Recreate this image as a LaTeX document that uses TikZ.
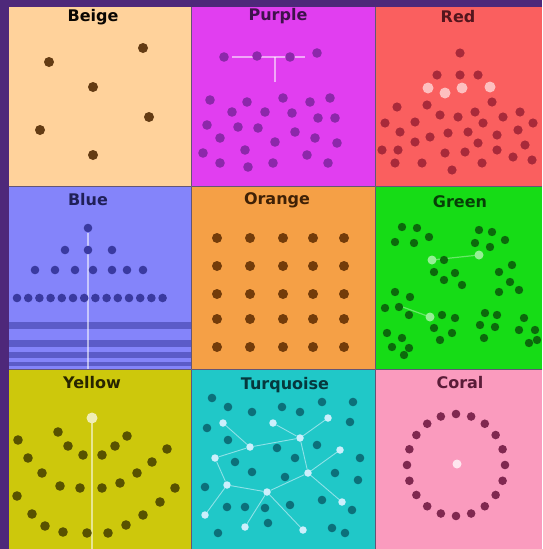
\documentclass[tikz,border=0pt]{standalone}
\usepackage{fontspec}
\setsansfont{DejaVu Sans}
\usepackage{xcolor}
\definecolor{bgpurple}{RGB}{78,40,122}
\definecolor{cbeige}{RGB}{255,210,155}
\definecolor{cpurple}{RGB}{225,62,240}
\definecolor{cred}{RGB}{250,95,95}
\definecolor{cblue}{RGB}{132,132,250}
\definecolor{corange}{RGB}{245,160,70}
\definecolor{cgreen}{RGB}{22,220,22}
\definecolor{cyellow}{RGB}{205,200,12}
\definecolor{cturq}{RGB}{32,200,200}
\definecolor{ccoral}{RGB}{250,155,190}
\definecolor{dbeige}{RGB}{100,60,20}
\definecolor{dpurple}{RGB}{140,40,170}
\definecolor{dred}{RGB}{168,42,58}
\definecolor{dblue}{RGB}{58,58,160}
\definecolor{dorange}{RGB}{115,60,10}
\definecolor{dgreen}{RGB}{12,105,12}
\definecolor{dyellow}{RGB}{88,82,0}
\definecolor{dturq}{RGB}{12,112,122}
\definecolor{dcoral}{RGB}{128,40,80}
\usetikzlibrary{calc}

\begin{document}
\begin{tikzpicture}[x=1pt,y=-1pt,
  title/.style={font=\sffamily\bfseries\fontsize{16}{16}\selectfont,inner sep=0pt},
  sep/.style={black!55,line width=1.4pt,opacity=0.6},
  glow/.style={white,opacity=0.55,line width=1.2pt},
  tqhub/.style={circle,fill=white!80!cyan,inner sep=0pt,minimum size=7.5pt},
  tqlink/.style={white!85!cyan,opacity=0.6,line width=0.9pt}]
  \useasboundingbox (0,0) rectangle (542,549);
  \fill[bgpurple] (0,0) rectangle (542,549);
  % cells
  \fill[cbeige]  (9,7)     rectangle (191,186);
  \fill[cpurple] (192,7)   rectangle (375,186);
  \fill[cred]    (376,7)   rectangle (542,186);
  \fill[cblue]   (9,187)   rectangle (191,369);
  \fill[corange] (192,187) rectangle (375,369);
  \fill[cgreen]  (376,187) rectangle (542,369);
  \fill[cyellow] (9,370)   rectangle (191,549);
  \fill[cturq]   (192,370) rectangle (375,549);
  \fill[ccoral]  (376,370) rectangle (542,549);
  \draw[sep] (191.5,7) -- (191.5,549);
  \draw[sep] (375.5,7) -- (375.5,549);
  \draw[sep] (9,186.5) -- (542,186.5);
  \draw[sep] (9,369.5) -- (542,369.5);
  % titles
  \node[title,text=black!90!dbeige]  (t-beige)  at (93,17)   {Beige};
  \node[title,text=dpurple!45!black] (t-purple) at (278,16) {Purple};
  \node[title,text=dred!50!black]    (t-red)    at (458,17) {Red};
  \node[title,text=dblue!55!black]   (t-blue)   at (88,200) {Blue};
  \node[title,text=dorange!55!black] (t-orange) at (277,200) {Orange};
  \node[title,text=dgreen!60!black]  (t-green)  at (460,202) {Green};
  \node[title,text=dyellow!45!black] (t-yellow) at (92,383) {Yellow};
  \node[title,text=dturq!50!black]   (t-turq)   at (285,385) {Turquoise};
  \node[title,text=dcoral!70!black]  (t-coral)  at (460,383) {Coral};
  % beige
  \foreach \x/\y in {49/62,143/48,93/87,149/117,40/130,93/155}
    \fill[dbeige] (\x,\y) circle (5);
  % purple
  \draw[glow] (232,57) -- (305,57);
  \draw[glow] (275,57) -- (275,82);
  \foreach \x/\y in {224/57,257/56,290/57,317/53,
    210/100,247/102,283/98,310/102,330/98,232/112,265/112,292/113,
    207/125,238/127,258/128,295/132,318/118,335/118,220/138,275/142,
    315/138,337/143,203/153,245/150,307/155,220/163,248/167,273/163,328/163}
    \fill[dpurple] (\x,\y) circle (4.8);
  % red
  \foreach \x/\y in {428/88,445/93,462/88,490/87}
    \fill[white!60!cred] (\x,\y) circle (5.5);
  \foreach \x/\y in {460/53,437/75,460/75,478/75,
    397/107,427/105,492/102,520/112,440/115,458/117,475/112,503/117,
    385/123,415/122,483/123,533/123,400/132,430/137,448/133,468/132,
    497/135,518/130,415/142,478/143,525/145,382/150,398/150,445/153,
    465/152,497/150,513/157,395/163,422/163,482/163,532/160,452/170}
    \fill[dred] (\x,\y) circle (4.6);
  % blue
  \foreach \y/\h in {322/7,340/7,352/6,362/4}
    \fill[dblue,opacity=0.55] (9,\y) rectangle (191,\y+\h);
  \draw[glow] (88,233) -- (88,369);
  \foreach \x/\y in {88/228,65/250,88/250,112/250,
    35/270,55/270,75/270,93/270,112/270,127/270,143/270}
    \fill[dblue] (\x,\y) circle (4.3);
  \foreach \i in {0,...,13}
    \fill[dblue] (17+11.2*\i,298) circle (4.3);
  % orange
  \foreach \x in {217,250,283,313,344}
    \foreach \y in {238,266,294,319,347}
      \fill[dorange] (\x,\y) circle (5);
  % green
  \draw[glow,opacity=0.35] (432,260) -- (479,255);
  \draw[glow,opacity=0.35] (400,306) -- (430,317);
  \foreach \x/\y in {432/260,479/255,430/317}
    \fill[white!55!cgreen] (\x,\y) circle (4.5);
  \foreach \x/\y in {402/227,417/228,395/242,414/243,429/237,
    479/230,492/232,475/243,490/247,505/240,
    444/260,434/272,444/280,455/273,462/285,
    512/265,499/272,510/282,499/292,519/290,
    395/292,410/297,385/308,399/307,409/315,
    442/315,455/318,434/328,452/333,440/340,
    485/313,497/315,480/325,495/327,484/338,
    387/333,402/338,392/347,409/348,404/355,
    524/318,535/330,519/330,529/343,537/340}
    \fill[dgreen] (\x,\y) circle (4.2);
  % yellow
  \draw[glow] (92,418) -- (92,549);
  \fill[white!70!cyellow] (92,418) circle (5.5);
  \foreach \x/\y in {58/432,68/446,83/455,102/455,115/446,127/436,
    28/458,42/473,60/486,80/488,102/488,120/483,137/473,152/462,167/449,
    18/440,17/496,32/514,45/526,63/532,87/533,108/533,126/525,143/515,
    160/502,175/488}
    \fill[dyellow] (\x,\y) circle (4.8);
  % turquoise
  \foreach \x/\y in {212/398,228/407,252/412,282/407,300/412,322/402,
    353/402,350/422,207/428,228/440,277/448,317/445,235/462,295/458,
    360/458,252/472,285/477,335/473,205/487,358/480,227/507,245/507,
    265/508,290/505,322/500,352/510,218/533,268/523,332/528,345/533}
    \fill[dturq] (\x,\y) circle (4.3);
  \foreach \n/\x/\y in {1/223/423,2/273/423,3/328/418,4/300/438,5/250/447,
    6/340/450,7/215/458,8/308/473,9/227/485,10/267/492,11/342/502,
    12/205/515,13/245/527,14/303/530}
    \node[tqhub] (tq\n) at (\x,\y) {};
  \foreach \a/\b in {1/5,5/7,5/4,2/4,3/4,4/8,8/6,7/9,9/10,10/8,8/11,
    10/13,12/9,10/14}
    \draw[tqlink] (tq\a) -- (tq\b);
  % coral
  \fill[white!75!ccoral] (457,464) circle (4.5);
  \foreach \i in {0,...,19}
    \fill[dcoral] ($(456,465)+({49*cos(18*\i)},{51*sin(18*\i)})$) circle (4.3);
\end{tikzpicture}
\end{document}
